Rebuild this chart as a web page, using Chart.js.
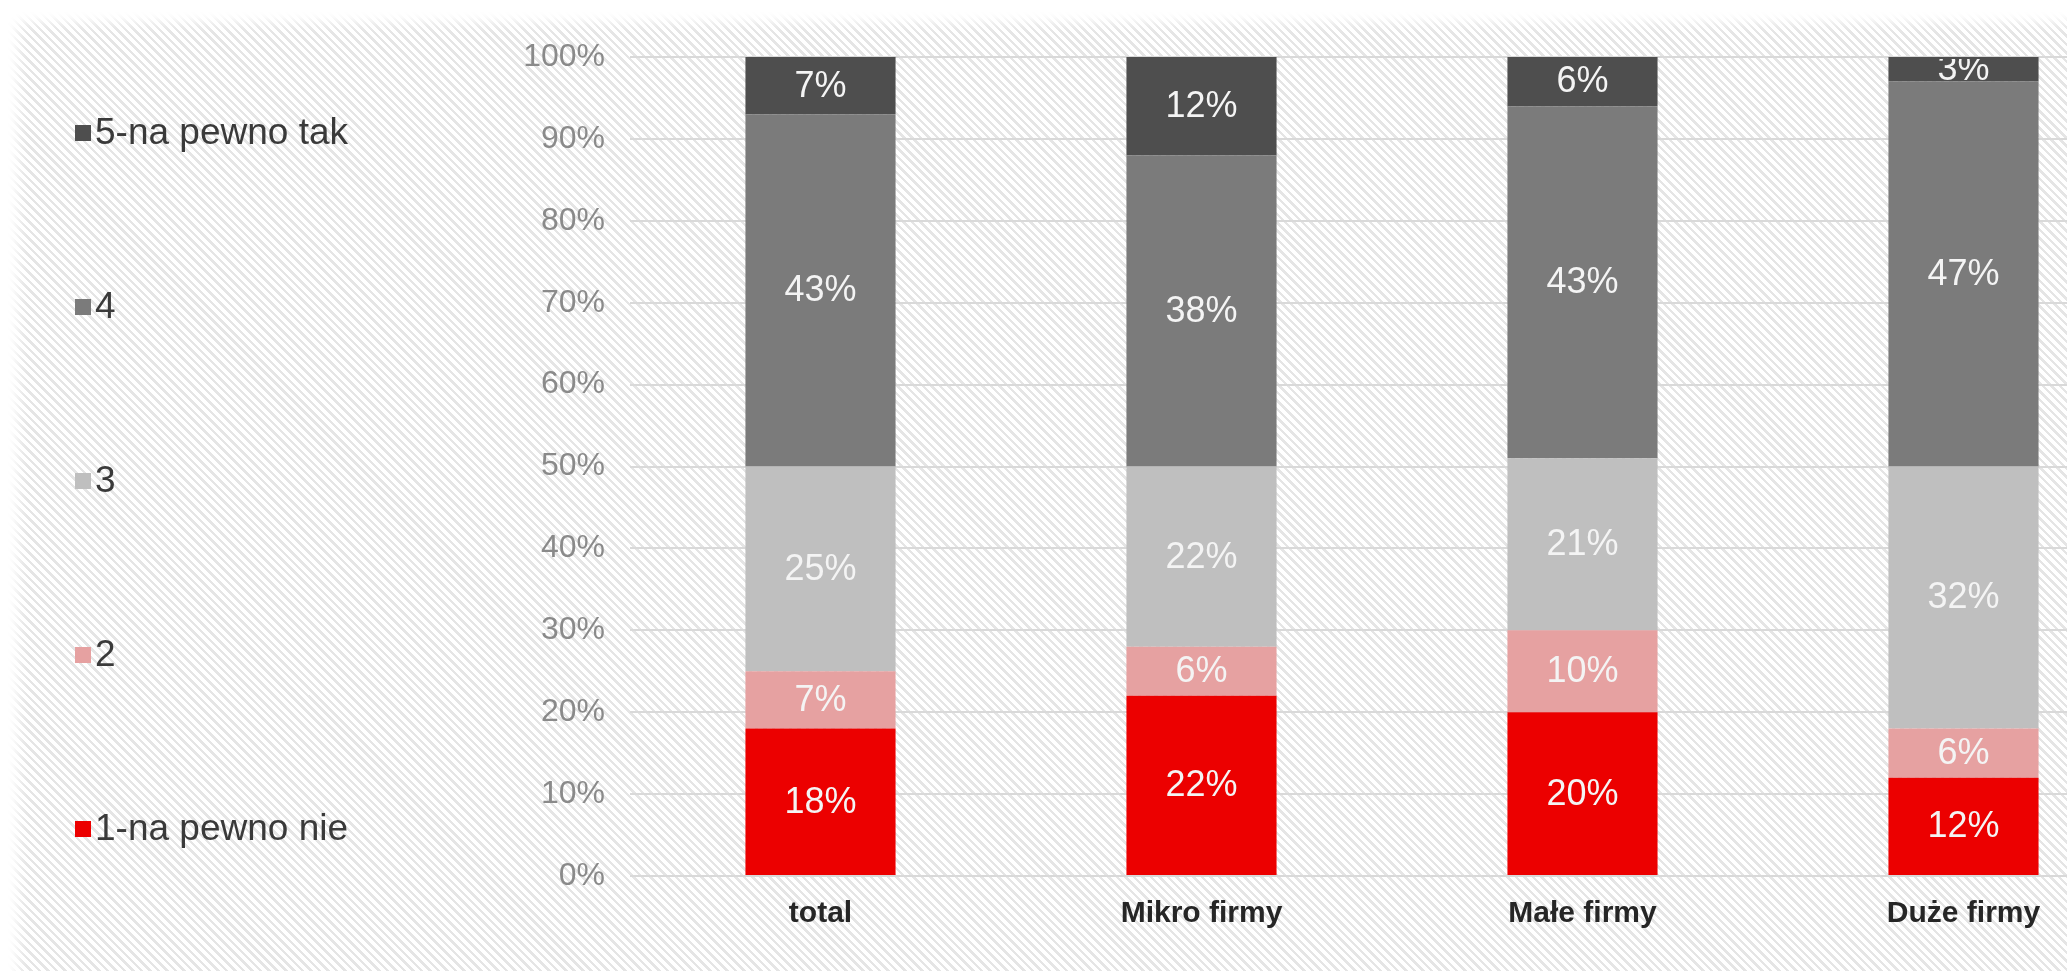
<!DOCTYPE html>
<html><head><meta charset="utf-8">
<script src="https://cdn.jsdelivr.net/npm/chart.js@4/dist/chart.umd.min.js"></script>
<style>
html,body{margin:0;padding:0;width:2067px;height:971px;overflow:hidden;background:#fff;}
#bg{position:absolute;left:8px;top:12px;right:0;bottom:0;
  background:repeating-linear-gradient(45deg,#ffffff 0px,#ffffff 3.5px,#e5e5e5 3.5px,#e5e5e5 6px);
  box-shadow: inset 10px 10px 12px #fff;}
#wrap{position:absolute;left:0;top:0;width:2067px;height:971px;overflow:hidden;}
canvas{display:block;}
</style>
</head><body>
<div id="bg"></div>
<div id="wrap"><canvas id="c" width="2160" height="971" style="width:2160px;height:971px"></canvas></div>
<script>
const categories = ['total', 'Mikro firmy', 'Małe firmy', 'Duże firmy'];
const seriesNames = ['1-na pewno nie', '2', '3', '4', '5-na pewno tak'];
const s1 = [18, 22, 20, 12];
const s2 = [7, 6, 10, 6];
const s3 = [25, 22, 21, 32];
const s4 = [43, 38, 43, 47];
const s5 = [7, 12, 6, 3];
const seriesColors = ['#EC0000', '#E6A1A1', '#BFBFBF', '#7B7B7B', '#4E4E4E'];

const FONT = '"Liberation Sans", Arial, sans-serif';
const seriesData = [s1, s2, s3, s4, s5];

const datasets = seriesNames.map((n, i) => ({
  label: n,
  data: seriesData[i],
  backgroundColor: seriesColors[i],
  borderWidth: 0,
  barPercentage: 0.394,
  categoryPercentage: 1
}));

const valueLabels = {
  id: 'valueLabels',
  afterDatasetsDraw(chart) {
    const ctx = chart.ctx;
    const a = chart.chartArea;
    ctx.save();
    ctx.beginPath();
    ctx.rect(a.left, a.top + 2, a.right - a.left, a.bottom - a.top);
    ctx.clip();
    ctx.font = '36px ' + FONT;
    ctx.fillStyle = '#F4F4F4';
    ctx.textAlign = 'center';
    ctx.textBaseline = 'middle';
    chart.data.datasets.forEach((ds, di) => {
      const meta = chart.getDatasetMeta(di);
      meta.data.forEach((el, i) => {
        const v = ds.data[i];
        const p = el.getProps(['x', 'y', 'base'], true);
        ctx.fillText(v + '%', p.x, (p.y + p.base) / 2 + 1);
      });
    });
    ctx.restore();
  }
};

const sideLegend = {
  id: 'sideLegend',
  afterDraw(chart, args, opts) {
    const ctx = chart.ctx;
    ctx.save();
    ctx.font = '37px ' + FONT;
    ctx.textBaseline = 'middle';
    ctx.textAlign = 'left';
    const ds = chart.data.datasets;
    const n = ds.length;
    for (let k = 0; k < n; k++) {
      const d = ds[n - 1 - k];
      const y = opts.startY + k * opts.step;
      ctx.fillStyle = d.backgroundColor;
      ctx.fillRect(opts.boxX, y - opts.box / 2, opts.box, opts.box);
      ctx.fillStyle = '#3A3A3A';
      ctx.fillText(d.label, opts.textX, y + 1);
    }
    ctx.restore();
  }
};

new Chart(document.getElementById('c'), {
  type: 'bar',
  data: { labels: categories, datasets },
  plugins: [valueLabels, sideLegend],
  options: {
    responsive: false,
    animation: false,
    devicePixelRatio: 1,
    layout: { padding: { left: 480, right: 6, top: 57, bottom: 0 } },
    plugins: {
      legend: { display: false },
      tooltip: { enabled: false },
      sideLegend: { startY: 133, step: 174, boxX: 75, box: 16, textX: 95 }
    },
    scales: {
      x: {
        stacked: true,
        grid: { display: false, drawTicks: false },
        border: { display: false },
        ticks: { color: '#262626', font: { family: FONT, size: 30, weight: 'bold' }, padding: 20, maxRotation: 0 },
        afterFit(s) { s.height = 95; }
      },
      y: {
        stacked: true,
        min: 0, max: 100,
        grid: { color: '#D9D9D9', lineWidth: 2, drawTicks: false },
        border: { display: false },
        ticks: { stepSize: 10, color: '#8A8A8A', font: { family: FONT, size: 32 }, padding: 25,
                 callback: v => v + '%' },
        afterFit(s) { s.width = 150; }
      }
    }
  }
});
</script>
</body></html>
